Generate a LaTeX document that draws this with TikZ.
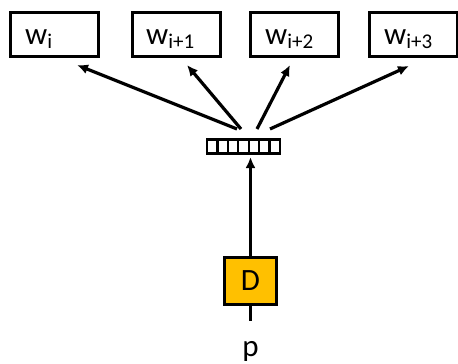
\documentclass[tikz,border=0pt]{standalone}
\usepackage{fontspec}
\setmainfont{Carlito}
\usetikzlibrary{arrows.meta}
\definecolor{amber}{HTML}{FFC000}
\tikzset{
  wordbox/.style={draw=black, line width=3pt, minimum width=88pt, minimum height=44pt, inner sep=0pt},
  wordlabel/.style={anchor=base west, inner sep=0pt, font=\fontsize{31}{33}\selectfont},
  cell/.style={draw=black, line width=2.2pt, minimum width=10.4pt, minimum height=14pt, inner sep=0pt},
  dbox/.style={draw=black, fill=amber, line width=2.8pt, minimum width=52pt, minimum height=47pt, inner sep=0pt, font=\fontsize{31}{33}\selectfont},
  link/.style={line width=3.2pt, -{Latex[length=11pt,width=10pt]}},
}
\newcommand{\wsub}[1]{w\raisebox{-5pt}{\fontsize{21}{23}\selectfont #1}}
\begin{document}
\begin{tikzpicture}[x=1pt, y=-1pt]
\useasboundingbox (0,0) rectangle (458,364);
% output word boxes
\node[wordbox] (b1) at (54,34.5) {};
\node[wordbox] (b2) at (176,34.5) {};
\node[wordbox] (b3) at (294,34.5) {};
\node[wordbox] (b4) at (413,34.5) {};
\node[wordlabel] (t1) at (25,44) {\wsub{i}};
\node[wordlabel] (t2) at (146,44) {\wsub{i+1}};
\node[wordlabel] (t3) at (265,44) {\wsub{i+2}};
\node[wordlabel] (t4) at (384,44) {\wsub{i+3}};
% paragraph vector
\foreach \k in {0,...,6} {
  \node[cell] (c\k) at ({212.2+\k*10.4},146.5) {};
}
\coordinate (s1) at (237,129);
\coordinate (s2) at (241,129);
\coordinate (s3) at (257,129);
\coordinate (s4) at (270,129);
\coordinate (e1) at (77,65);
\coordinate (e2) at (187,65);
\coordinate (e3) at (290,65);
\coordinate (e4) at (409,66);
\draw[link] (s1) -- (e1);
\draw[link] (s2) -- (e2);
\draw[link] (s3) -- (e3);
\draw[link] (s4) -- (e4);
% paragraph id and lookup
\node[dbox] (d) at (250.5,281) {D};
\draw[link] (d.north) -- (250.5,157);
\coordinate (pin) at (250.5,321);
\draw[line width=3pt] (d.south) -- (pin);
\node[anchor=base, inner sep=0pt, font=\fontsize{31}{33}\selectfont] (p) at (250.5,356) {p};
\end{tikzpicture}
\end{document}
